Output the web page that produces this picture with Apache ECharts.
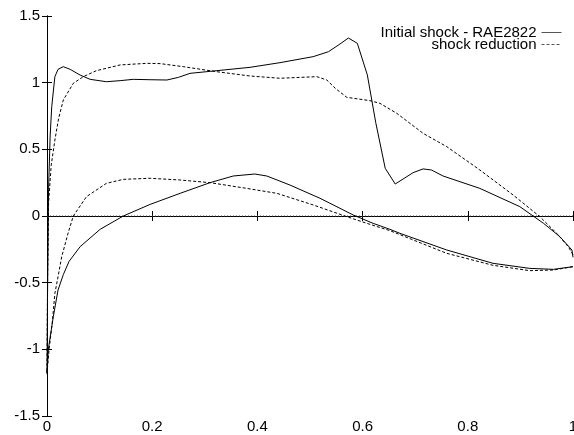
<!DOCTYPE html>
<html>
<head>
<meta charset="utf-8">
<script src="https://cdn.jsdelivr.net/npm/echarts@6/dist/echarts.min.js"></script>
<style>
  html, body { margin: 0; padding: 0; background: #fff; }
  #chart { width: 574px; height: 435px; }
</style>
</head>
<body>
<div id="chart"></div>
<script>
// pressure coefficient along chord, leading edge -> trailing edge
const initUpperX = [0, 0.001, 0.003, 0.006, 0.009, 0.015, 0.021, 0.031, 0.044, 0.063, 0.082, 0.113, 0.139, 0.164, 0.196, 0.228, 0.25, 0.272, 0.323, 0.386, 0.443, 0.506, 0.535, 0.557, 0.573, 0.59, 0.609, 0.625, 0.643, 0.662, 0.696, 0.715, 0.731, 0.753, 0.823, 0.899, 0.944, 0.975, 0.998, 1.0];
const initUpperY = [-1.18, -0.6, 0.2, 0.6, 0.82, 1.045, 1.1, 1.12, 1.1, 1.057, 1.025, 1.007, 1.015, 1.025, 1.022, 1.02, 1.04, 1.07, 1.09, 1.115, 1.15, 1.195, 1.232, 1.29, 1.335, 1.295, 1.058, 0.7, 0.358, 0.24, 0.325, 0.353, 0.345, 0.30, 0.207, 0.07, -0.055, -0.155, -0.255, -0.31];
const initLowerX = [0, 0.0025, 0.012, 0.021, 0.031, 0.042, 0.063, 0.101, 0.145, 0.196, 0.253, 0.31, 0.354, 0.395, 0.418, 0.462, 0.519, 0.582, 0.62, 0.652, 0.671, 0.76, 0.848, 0.918, 0.963, 1.0];
const initLowerY = [-1.18, -1.0, -0.755, -0.555, -0.44, -0.34, -0.23, -0.1, 0, 0.087, 0.17, 0.25, 0.30, 0.315, 0.30, 0.232, 0.133, 0.008, -0.055, -0.1, -0.13, -0.255, -0.355, -0.393, -0.40, -0.38];

const redUpperX = [0, 0.001, 0.003, 0.008, 0.015, 0.022, 0.031, 0.05, 0.069, 0.094, 0.139, 0.19, 0.215, 0.259, 0.323, 0.386, 0.443, 0.513, 0.532, 0.548, 0.57, 0.614, 0.633, 0.665, 0.715, 0.76, 0.823, 0.886, 0.937, 0.969, 0.991, 1.0];
const redUpperY = [-1.18, -0.5, 0.1, 0.38, 0.57, 0.73, 0.87, 0.995, 1.045, 1.09, 1.133, 1.145, 1.143, 1.12, 1.082, 1.05, 1.033, 1.045, 1.02, 0.958, 0.89, 0.865, 0.845, 0.77, 0.62, 0.52, 0.345, 0.158, -0.005, -0.13, -0.23, -0.29];
const redLowerX = [0, 0.004, 0.01, 0.015, 0.021, 0.028, 0.04, 0.05, 0.075, 0.113, 0.145, 0.196, 0.253, 0.31, 0.38, 0.437, 0.506, 0.57, 0.608, 0.652, 0.76, 0.848, 0.918, 0.963, 1.0];
const redLowerY = [-1.18, -1.0, -0.8, -0.58, -0.455, -0.305, -0.13, 0, 0.145, 0.245, 0.275, 0.283, 0.27, 0.25, 0.207, 0.17, 0.083, -0.005, -0.055, -0.11, -0.28, -0.37, -0.41, -0.405, -0.38];

const names = ['Initial shock - RAE2822', 'shock reduction'];

// one closed contour: upper surface TE -> LE, then lower surface LE -> TE
function contour(ux, uy, lx, ly) {
  const pts = [];
  for (let i = ux.length - 1; i >= 0; i--) pts.push([ux[i], uy[i]]);
  for (let i = 0; i < lx.length; i++) pts.push([lx[i], ly[i]]);
  return pts;
}

const font = 'Liberation Sans';
const chart = echarts.init(document.getElementById('chart'), null, { renderer: 'canvas' });

const tick = { show: true, inside: true, length: 5, lineStyle: { color: '#000', width: 1 } };
const line = { show: true, lineStyle: { color: '#000', width: 1 } };

function legendFor(name, top) {
  return {
    data: [name], right: 12, top: top, padding: 0, align: 'right',
    itemWidth: 20, itemHeight: 14,
    // hide the circle marker ECharts adds to line-series legend icons
    itemStyle: { opacity: 0 },
    lineStyle: { width: 1, color: '#555' },
    textStyle: { fontFamily: font, fontSize: 15, color: '#000' }
  };
}

chart.setOption({
  animation: false,
  backgroundColor: '#fff',
  grid: { left: 47, right: 1, top: 16, bottom: 19, outerBoundsMode: 'none' },
  legend: [legendFor(names[0], 25), legendFor(names[1], 37)],
  xAxis: [
    {
      type: 'value', min: 0, max: 1, interval: 0.2, position: 'bottom',
      axisLine: line, axisTick: tick, splitLine: { show: false },
      axisLabel: { margin: 3, fontFamily: font, fontSize: 15, color: '#000' }
    },
    {
      type: 'value', min: 0, max: 1, interval: 0.2, position: 'top',
      axisLine: line, axisTick: tick, splitLine: { show: false },
      axisLabel: { show: false }
    }
  ],
  yAxis: [
    {
      type: 'value', min: -1.5, max: 1.5, interval: 0.5, position: 'left',
      axisLine: line, axisTick: tick, splitLine: { show: false },
      axisLabel: { margin: 7, fontFamily: font, fontSize: 15, color: '#000' }
    },
    {
      type: 'value', min: -1.5, max: 1.5, interval: 0.5, position: 'right',
      axisLine: line, axisTick: tick, splitLine: { show: false },
      axisLabel: { show: false }
    }
  ],
  series: [
    {
      name: 'zero', type: 'line', symbol: 'none', silent: true,
      data: [[0, 0], [1, 0]],
      lineStyle: { color: '#444', width: 1, type: [1, 2] }
    },
    {
      name: names[0], type: 'line', symbol: 'none',
      data: contour(initUpperX, initUpperY, initLowerX, initLowerY),
      lineStyle: { color: '#000', width: 1 },
      itemStyle: { color: '#000' }
    },
    {
      name: names[1], type: 'line', symbol: 'none',
      data: contour(redUpperX, redUpperY, redLowerX, redLowerY),
      lineStyle: { color: '#000', width: 1, type: [3, 2] },
      itemStyle: { color: '#000' }
    }
  ]
});
</script>
</body>
</html>
